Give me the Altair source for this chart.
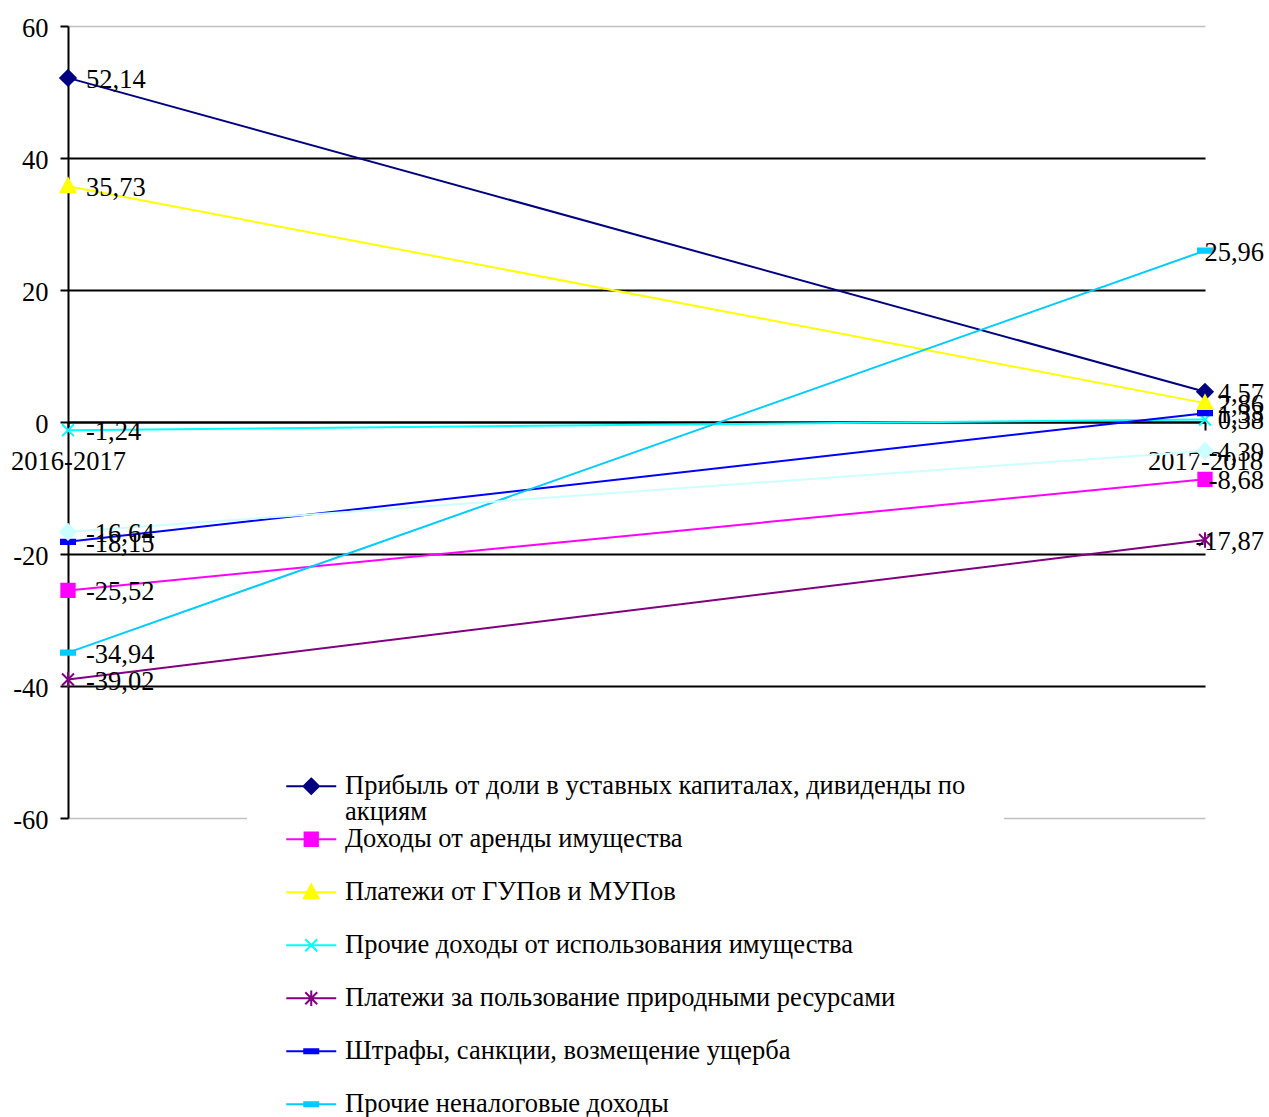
import textwrap

import altair as alt
import pandas as pd

# ---- data -----------------------------------------------------------------
PERIODS = ["2016-2017", "2017-2018"]
SERIES = [
    "Прибыль от доли в уставных капиталах, дивиденды по акциям",
    "Доходы от аренды имущества",
    "Платежи от ГУПов и МУПов",
    "Прочие доходы от использования имущества",
    "Платежи за пользование природными ресурсами",
    "Штрафы, санкции, возмещение ущерба",
    "Прочие неналоговые доходы",
    "Доходы от продажи имущества",
]
VALUES_2016_2017 = [52.14, -25.52, 35.73, -1.24, -39.02, -18.15, -34.94, -16.64]
VALUES_2017_2018 = [4.57, -8.68, 2.86, 0.38, -17.87, 1.33, 25.96, -4.39]
Y_TICKS = [-60, -40, -20, 0, 20, 40, 60]

# ---- styling ----------------------------------------------------------------
COLORS = ["#000080", "#FF00FF", "#FFFF00", "#00FFFF",
          "#800080", "#0000FF", "#00CCFF", "#CCFFFF"]
MARKERS = ["diamond", "square", "triangle", "cross",
           "star", "dash", "dash", "diamond"]
FONT = "Liberation Serif"
FONT_SIZE = 26.5
LEGEND_LINE_HEIGHT = 25.5
MARK_SIZE = 196          # symbol area, i.e. 14 px box -> unit = 7 px
LEGEND_LEAD = 25 / 7     # half-length of the legend line, in symbol units

GLYPHS = {
    "diamond": [([(0, -1.1), (1.1, 0), (0, 1.1), (-1.1, 0)], True)],
    "square": [([(-0.95, -0.95), (0.95, -0.95), (0.95, 0.95), (-0.95, 0.95)], True)],
    "triangle": [([(0, -1.1), (1.05, 0.85), (-1.05, 0.85)], True)],
    "cross": [([(-0.85, -0.85), (0.85, 0.85)], False),
              ([(0.85, -0.85), (-0.85, 0.85)], False)],
    "star": [([(-0.85, -0.85), (0.85, 0.85)], False),
             ([(0.85, -0.85), (-0.85, 0.85)], False),
             ([(0, -1.1), (0, 1.1)], False)],
    "dash": [([(-1, -0.3), (1, -0.3), (1, 0.3), (-1, 0.3)], True)],
}


def glyph_path(name, lead=0.0):
    """SVG path of a marker in Vega's unit symbol space, optionally with a
    horizontal line through it (used for the legend swatches)."""
    parts = []
    if lead:
        parts.append(f"M{-lead:.3f},0H{lead:.3f}")
    for pts, closed in GLYPHS[name]:
        s = "M" + "L".join(f"{x:.3f},{y:.3f}" for x, y in pts)
        parts.append(s + ("Z" if closed else ""))
    return "".join(parts)


def fmt(v):
    return f"{v:.2f}".replace(".", ",")


rows = []
for i, name in enumerate(SERIES):
    for period, vals in zip(PERIODS, (VALUES_2016_2017, VALUES_2017_2018)):
        rows.append({
            "series": name,
            "order": i,
            "period": period,
            "value": vals[i],
            "label": fmt(vals[i]),
            "color": COLORS[i],
            "marker": glyph_path(MARKERS[i]),
        })
df = pd.DataFrame(rows)


# legend labels: long names wrap onto a second line, every entry gets two
# lines so that the rows are evenly spaced
def wrap_lines(name):
    lines = textwrap.wrap(name, 50)
    return lines + [""] * (2 - len(lines))


label_expr = "[datum.label, '']"
for name in SERIES:
    lines = wrap_lines(name)
    if lines[1]:
        arr = "[" + ", ".join(f"'{s}'" for s in lines) + "]"
        label_expr = f"datum.label === '{name}' ? {arr} : " + label_expr

# ---- encodings ----------------------------------------------------------------
grid_color = {"condition": {"test": "abs(datum.value) >= 60", "value": "#c0c0c0"},
              "value": "black"}
grid_width = {"condition": {"test": "abs(datum.value) >= 60", "value": 1.5},
              "value": 2}

x_enc = alt.X(
    "period:N",
    sort=PERIODS,
    scale=alt.Scale(type="point", domain=PERIODS, padding=0),
    axis=alt.Axis(
        title=None, labelAngle=0, offset=-396, grid=False,
        domainColor="black", domainWidth=2,
        tickColor="black", tickWidth=2, tickSize=8,
        labelFont=FONT, labelFontSize=FONT_SIZE, labelColor="black",
        labelPadding=18, zindex=0,
    ),
)
y_enc = alt.Y(
    "value:Q",
    scale=alt.Scale(domain=[-60, 60], nice=False, zero=False),
    axis=alt.Axis(
        title=None, values=Y_TICKS, grid=True,
        gridColor=grid_color, gridWidth=grid_width,
        domainColor="black", domainWidth=2,
        tickColor="black", tickWidth=2, tickSize=8,
        labelFont=FONT, labelFontSize=FONT_SIZE, labelColor="black",
        labelPadding=12, labelOffset=2, labelExpr="'' + datum.value",
        zindex=0,
    ),
)

legend = alt.Legend(
    orient="none", legendX=179, legendY=709, direction="vertical",
    title=None, fillColor="white", strokeColor=None, padding=38,
    labelFont=FONT, labelFontSize=FONT_SIZE, labelColor="black", labelLimit=2000,
    labelExpr=label_expr, labelOffset=20.5, symbolOffset=13,
    symbolSize=MARK_SIZE, symbolStrokeWidth=2, rowPadding=0,
    values=SERIES,
)

base = alt.Chart(df)

# legend swatches only (no marks drawn)
legend_layer = base.transform_filter("false").mark_point(
    filled=True, size=MARK_SIZE, strokeWidth=2, opacity=1
).encode(
    x=x_enc, y=y_enc,
    fill=alt.Fill("series:N", scale=alt.Scale(domain=SERIES, range=COLORS), legend=legend),
    stroke=alt.Stroke("series:N", scale=alt.Scale(domain=SERIES, range=COLORS), legend=legend),
    shape=alt.Shape(
        "series:N",
        scale=alt.Scale(domain=SERIES,
                        range=[glyph_path(m, LEGEND_LEAD) for m in MARKERS]),
        legend=legend,
    ),
)

lines = base.mark_line(strokeWidth=2).encode(
    x=x_enc, y=y_enc,
    detail="series:N",
    stroke=alt.Stroke("color:N", scale=None),
    order="order:Q",
)

points = base.mark_point(filled=True, size=MARK_SIZE, strokeWidth=2, opacity=1).encode(
    x=x_enc, y=y_enc,
    fill=alt.Fill("color:N", scale=None),
    stroke=alt.Stroke("color:N", scale=None),
    shape=alt.Shape("marker:N", scale=None),
    order="order:Q",
)

text_style = dict(font=FONT, fontSize=FONT_SIZE, color="black", baseline="middle", dy=2)
labels_left = base.transform_filter(alt.datum.period == PERIODS[0]).mark_text(
    align="left", dx=18, **text_style
).encode(x=x_enc, y=y_enc, text="label:N")
labels_right = base.transform_filter(alt.datum.period == PERIODS[1]).mark_text(
    align="right", dx=59, **text_style
).encode(x=x_enc, y=y_enc, text="label:N")

chart = alt.layer(
    legend_layer, lines, points, labels_left, labels_right
).properties(
    width=1137, height=792,
    padding={"left": 68, "top": 26, "right": 64, "bottom": 299},
    autosize=alt.AutoSizeParams(type="none"),
    background="white",
).configure(
    view={"stroke": None},
    style={"guide-label": {"lineHeight": LEGEND_LINE_HEIGHT}},
)

chart.save("out.html", embed_options={"renderer": "svg", "actions": False})
